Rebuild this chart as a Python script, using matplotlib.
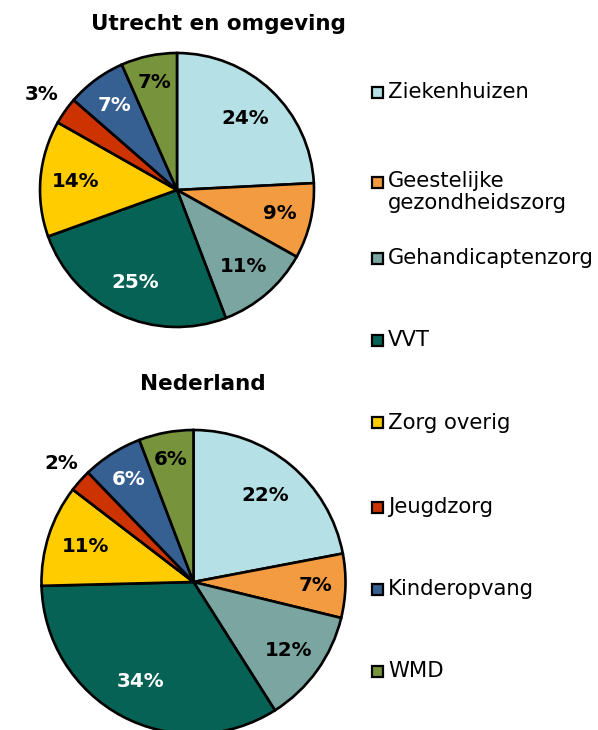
import matplotlib
matplotlib.use("Agg")
import matplotlib.pyplot as plt
import numpy as np
from matplotlib.patches import Rectangle

categories = ["Ziekenhuizen", "Geestelijke\ngezondheidszorg", "Gehandicaptenzorg",
              "VVT", "Zorg overig", "Jeugdzorg", "Kinderopvang", "WMD"]
utrecht = [24.2, 8.9, 11.1, 25.3, 13.7, 3.2, 7.0, 6.6]
nederland = [22.0, 6.8, 12.2, 33.6, 10.8, 2.4, 6.4, 5.8]
titles = ["Utrecht en omgeving", "Nederland"]

colors = ["#B5E0E5", "#F29B40", "#7BA5A0", "#056254",
          "#FFCC00", "#CC3300", "#376092", "#77933C"]
text_colors = ["black", "black", "black", "white", "black", "black", "white", "black"]

W, H = 598, 730
fig = plt.figure(figsize=(W / 100, H / 100), dpi=100)
plt.rcParams['font.family'] = ['DejaVu Sans']

# (center x, center y from top, radius) in pixels; label distances per wedge; title pos
layouts = [
    (177, 190, 137, [0.72, 0.77, 0.74, 0.74, 0.74, 1.21, 0.77, 0.80], (218, 24)),
    (193.5, 582, 152, [0.74, 0.80, 0.77, 0.74, 0.75, 1.17, 0.80, 0.82], (203, 384)),
]

for values, title, (cx, cy, r, dists, tpos) in zip([utrecht, nederland], titles, layouts):
    ax = fig.add_axes([(cx - r) / W, (H - cy - r) / H, 2 * r / W, 2 * r / H])
    wedges, _ = ax.pie(values, colors=colors, startangle=90, counterclock=False,
                       radius=1.0,
                       wedgeprops=dict(edgecolor="black", linewidth=1.9, clip_on=False))
    ax.set_xlim(-1, 1)
    ax.set_ylim(-1, 1)
    ax.set_aspect("equal")
    ax.axis("off")
    for i, (w, v, d) in enumerate(zip(wedges, values, dists)):
        ang = np.deg2rad((w.theta1 + w.theta2) / 2)
        col = text_colors[i] if d < 1 else "black"
        ax.text(d * np.cos(ang), d * np.sin(ang), f"{v:.0f}%", ha="center", va="center",
                fontsize=14.3, fontweight="bold", color=col, clip_on=False)
    fig.text(tpos[0] / W, 1 - tpos[1] / H, title, ha="center", va="center",
             fontsize=15.5, fontweight="bold")

# legend
legend_y = [92, 182, 258, 340, 423, 507, 589, 671]
for cat, col, y in zip(categories, colors, legend_y):
    fig.patches.append(Rectangle((372 / W, 1 - (y + 5.5) / H), 11 / W, 11 / H,
                                 transform=fig.transFigure, facecolor=col,
                                 edgecolor="black", linewidth=1.6))
    if "\n" in cat:
        fig.text(388 / W, 1 - (y - 11) / H, cat, ha="left", va="top",
                 fontsize=15.2, linespacing=1.1)
    else:
        fig.text(388 / W, 1 - y / H, cat, ha="left", va="center", fontsize=15.2)

fig.savefig("out.png", dpi=100)
